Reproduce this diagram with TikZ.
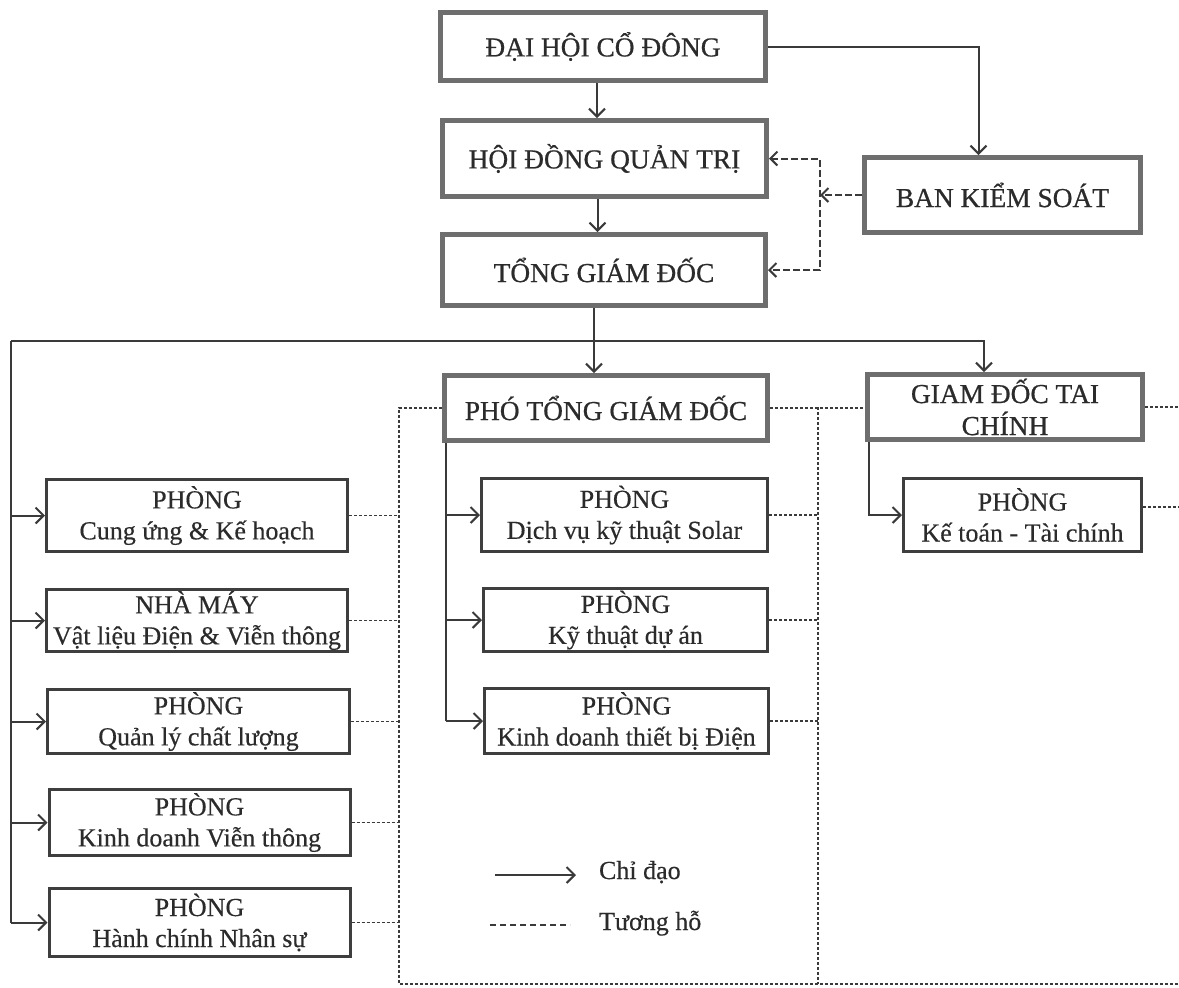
\documentclass[tikz,border=0pt]{standalone}
\usepackage{fontspec}
\setmainfont{Liberation Serif}
\newfontfamily\headfont{Liberation Serif}[FakeBold=0.7]
\newfontfamily\subfont{Liberation Serif}[FakeBold=0.4]
\usetikzlibrary{arrows.meta}
\definecolor{bordtop}{HTML}{6E6E6E}
\definecolor{bordsub}{HTML}{3E3E3E}
\definecolor{ink}{HTML}{2B2B2B}
\definecolor{linec}{HTML}{3A3A3A}
\begin{document}
\begin{tikzpicture}[x=0.5pt,y=-0.5pt,
  topbox/.style={draw=bordtop, line width=2.5pt, text=ink, inner sep=1pt, align=center,
    font=\headfont\fontsize{13.7}{16}\selectfont},
  subbox/.style={draw=bordsub, line width=1.5pt, text=ink, inner sep=1pt, align=center,
    font=\subfont\fontsize{13}{15.5}\selectfont},
  link/.style={draw=linec, line width=1pt},
  arr/.style={link, -{Straight Barb[length=4pt,width=8pt]}},
  mutual/.style={draw=linec, line width=0.6pt, dash pattern=on 1.5pt off 1pt},
  ctrl/.style={draw=linec, line width=1pt, dash pattern=on 3.5pt off 1.5pt},
  legtext/.style={text=ink, font=\subfont\fontsize{13}{15.5}\selectfont, anchor=base west}
]
\useasboundingbox (0,0) rectangle (1179,987);

% top level
\node[topbox, minimum width=162.5pt, minimum height=34pt] (dh) at (603,46.5) {ĐẠI HỘI CỔ ĐÔNG};
\node[topbox, minimum width=162pt, minimum height=38pt] (hd) at (604.5,158.5) {HỘI ĐỒNG QUẢN TRỊ};
\node[topbox, minimum width=161.5pt, minimum height=35.5pt] (tgd) at (604,270) {TỔNG GIÁM ĐỐC};
\node[topbox, minimum width=138pt, minimum height=37.5pt] (bks) at (1002.5,195) {BAN KIỂM SOÁT};
\node[topbox, minimum width=161.5pt, minimum height=32.5pt] (ptgd) at (606,408) {PHÓ TỔNG GIÁM ĐỐC};
\node[topbox, minimum width=137.5pt, minimum height=32.5pt] (gdtc) at (1005,407) {GIAM ĐỐC TAI\\CHÍNH};

% left column
\node[subbox, minimum width=150.5pt, minimum height=36pt] (l1) at (197,515.5) {PHÒNG\\Cung ứng \& Kế hoạch};
\node[subbox, minimum width=150.5pt, minimum height=31pt] (l2) at (197,620.5) {NHÀ MÁY\\Vật liệu Điện \& Viễn thông};
\node[subbox, minimum width=151pt, minimum height=32pt] (l3) at (198.5,721.5) {PHÒNG\\Quản lý chất lượng};
\node[subbox, minimum width=150.5pt, minimum height=33pt] (l4) at (199.5,822.5) {PHÒNG\\Kinh doanh Viễn thông};
\node[subbox, minimum width=150.5pt, minimum height=34pt] (l5) at (199.5,922.5) {PHÒNG\\Hành chính Nhân sự};

% middle column
\node[subbox, minimum width=143pt, minimum height=36.5pt] (m1) at (624.5,515) {PHÒNG\\Dịch vụ kỹ thuật Solar};
\node[subbox, minimum width=142pt, minimum height=31.5pt] (m2) at (625.5,620) {PHÒNG\\Kỹ thuật dự án};
\node[subbox, minimum width=142pt, minimum height=32.5pt] (m3) at (626.5,721) {PHÒNG\\Kinh doanh thiết bị Điện};

% right column
\node[subbox, minimum width=119pt, minimum height=36.5pt] (r1) at (1022.5,515) {PHÒNG\\Kế toán - Tài chính};

% solid direction lines
\draw[arr] ([xshift=-3pt]dh.south) -- ([xshift=-3pt]dh.south |- hd.north);
\draw[arr] ([xshift=-3.5pt]hd.south) -- ([xshift=-3.5pt]hd.south |- tgd.north);
\draw[arr] (dh.east) -| ([xshift=-12pt]bks.north);

\coordinate (busL) at (11,341);
\coordinate (busR) at (984,341);
\draw[arr] ([xshift=-5pt]tgd.south) -- ([xshift=-5pt]tgd.south |- ptgd.north);
\draw[arr] (busL) -- (busR) -- (busR |- gdtc.north);
\draw[link] (busL) -- (busL |- l5.west);
\foreach \b in {l1,l2,l3,l4,l5} \draw[arr] (busL |- \b.west) -- (\b.west);

\coordinate (pv) at ([xshift=2pt]ptgd.south west);
\draw[link] (pv) -- (pv |- m3.west);
\foreach \b in {m1,m2,m3} \draw[arr] (pv |- \b.west) -- (\b.west);

\coordinate (gv) at ([xshift=2pt]gdtc.south west);
\draw[arr] (gv) |- (r1.west);

% control (supervisory) dashed arrows
\coordinate (jx) at (820,195);
\draw[ctrl, -{Straight Barb[length=3.5pt,width=7pt]}] (bks.west) -- (jx);
\draw[ctrl, {Straight Barb[length=3.5pt,width=7pt]}-{Straight Barb[length=3.5pt,width=7pt]}]
  (hd.east) -- (jx |- hd.east) -- (jx |- tgd.east) -- (tgd.east);

% mutual dashed lines
\coordinate (dL) at (399,408);
\coordinate (dLb) at (399,984);
\coordinate (dM) at (818,407);
\coordinate (dMb) at (818,984);
\coordinate (dRb) at (1179,984);
\coordinate (eR) at (1179,500);
\draw[mutual] (ptgd.west) -- (ptgd.west -| dL) -- (dLb) -- (dRb);
\draw[mutual] (ptgd.east) -- (ptgd.east -| gdtc.west);
\draw[mutual] (dM) -- (dMb);
\foreach \b in {l1,l2,l3,l4,l5} \draw[mutual] (\b.east) -- (dL |- \b.east);
\foreach \b in {m1,m2,m3} \draw[mutual] (\b.east) -- (dM |- \b.east);
\draw[mutual] (gdtc.east) -- (gdtc.east -| eR);
\draw[mutual] ([yshift=4pt]r1.east) -- ([yshift=4pt]r1.east -| eR);

% legend
\coordinate (la1) at (495,875);
\coordinate (la2) at (576,875);
\coordinate (lb1) at (490,925);
\coordinate (lb2) at (570,925);
\draw[arr] (la1) -- (la2);
\draw[draw=linec, line width=0.6pt, dash pattern=on 3pt off 2pt] (lb1) -- (lb2);
\node[legtext] (lg1) at (592,879) {Chỉ đạo};
\node[legtext] (lg2) at (592,930) {Tương hỗ};
\end{tikzpicture}
\end{document}
